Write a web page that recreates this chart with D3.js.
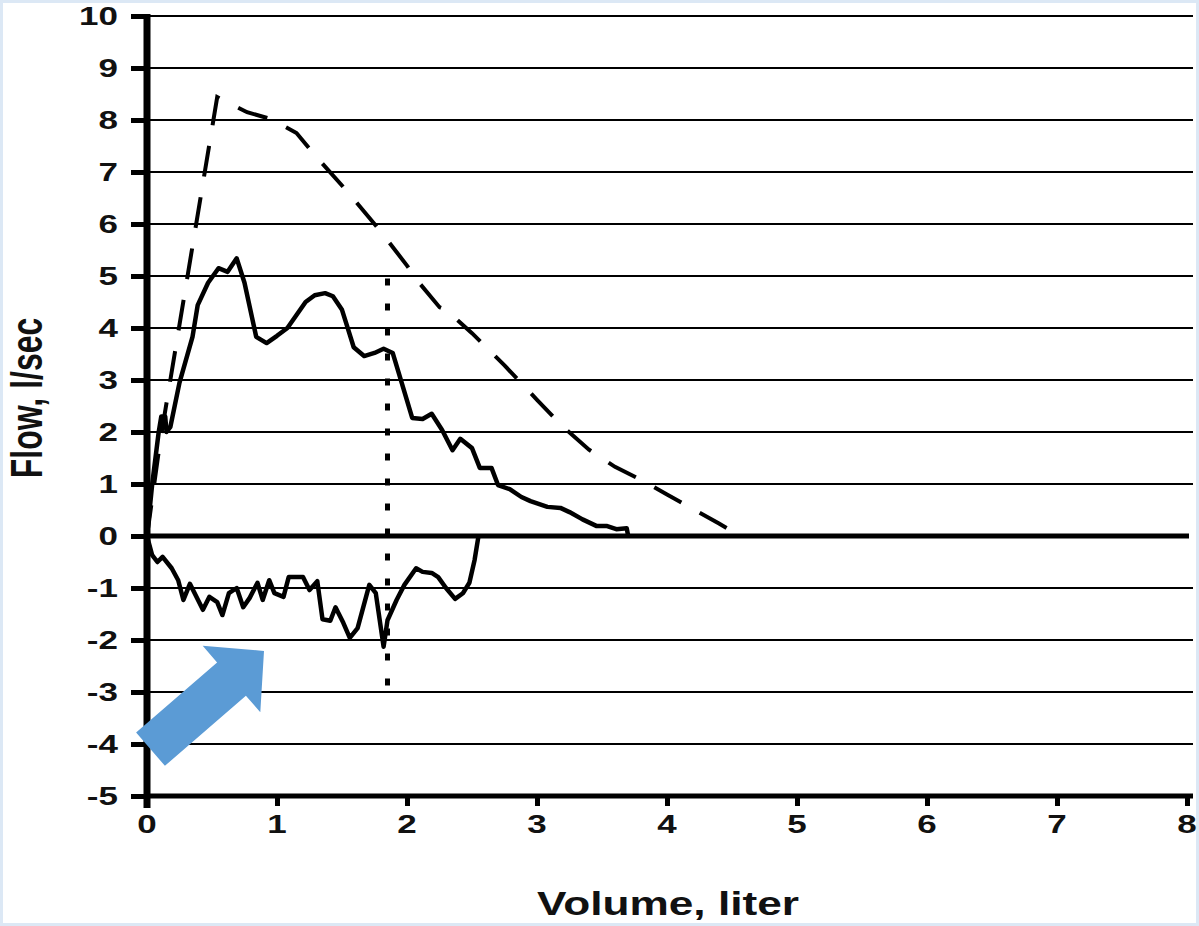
<!DOCTYPE html>
<html><head><meta charset="utf-8">
<script src="https://cdn.jsdelivr.net/npm/d3@7"></script>
<style>
html,body{margin:0;padding:0;background:#dce8f5;}
svg{display:block}
text{font-family:"Liberation Sans",Arial,sans-serif;font-weight:bold;fill:#111;}
</style></head><body>
<svg id="c" width="1199" height="926"></svg>
<script>
// ---- data ----
const xTicks = [0, 1, 2, 3, 4, 5, 6, 7, 8];
const yTicks = [-5, -4, -3, -2, -1, 0, 1, 2, 3, 4, 5, 6, 7, 8, 9, 10];
const xTitle = "Volume, liter";
const yTitle = "Flow, l/sec";

// predicted (dashed) expiratory curve
const predVolume = [0, 0.1, 0.54, 0.77, 0.95, 1.15, 1.3, 1.55, 1.8, 2.0, 2.1, 2.25, 2.3, 2.5, 2.75, 3.0, 3.2, 3.4, 3.6, 3.8, 4.0, 4.2, 4.4, 4.56];
const predFlow   = [0, 1.8, 8.44, 8.15, 8.02, 7.75, 7.3, 6.6, 5.85, 5.2, 4.85, 4.4, 4.35, 3.9, 3.28, 2.62, 2.1, 1.66, 1.33, 1.08, 0.8, 0.52, 0.24, 0];

// measured expiratory (solid, positive)
const expVolume = [0, 0.04, 0.09, 0.11, 0.14, 0.15, 0.18, 0.25, 0.35, 0.39, 0.47, 0.55, 0.62, 0.69, 0.75, 0.84, 0.92, 1.0, 1.08, 1.15, 1.22, 1.29, 1.37, 1.43, 1.5, 1.54, 1.59, 1.67, 1.75, 1.82, 1.89, 1.96, 2.04, 2.12, 2.19, 2.27, 2.35, 2.41, 2.5, 2.56, 2.65, 2.7, 2.79, 2.88, 2.95, 3.08, 3.18, 3.25, 3.35, 3.46, 3.54, 3.61, 3.69, 3.7];
const expFlow   = [0, 1.0, 2.0, 2.3, 2.3, 2.0, 2.1, 2.95, 3.83, 4.44, 4.87, 5.15, 5.08, 5.34, 4.87, 3.83, 3.71, 3.85, 4.0, 4.25, 4.5, 4.63, 4.67, 4.61, 4.35, 4.03, 3.63, 3.46, 3.52, 3.6, 3.52, 2.94, 2.27, 2.25, 2.35, 2.04, 1.65, 1.87, 1.69, 1.31, 1.31, 0.98, 0.9, 0.75, 0.67, 0.56, 0.54, 0.46, 0.32, 0.19, 0.19, 0.13, 0.15, 0.02];

// measured inspiratory (solid, negative)
const inspVolume = [0, 0.04, 0.08, 0.12, 0.19, 0.24, 0.28, 0.33, 0.38, 0.43, 0.48, 0.54, 0.58, 0.63, 0.69, 0.74, 0.79, 0.85, 0.89, 0.94, 0.98, 1.05, 1.09, 1.2, 1.25, 1.31, 1.35, 1.41, 1.45, 1.51, 1.56, 1.62, 1.71, 1.76, 1.82, 1.85, 1.92, 1.98, 2.07, 2.12, 2.19, 2.24, 2.3, 2.37, 2.43, 2.48, 2.52, 2.55];
const inspFlow   = [0, -0.37, -0.5, -0.4, -0.62, -0.85, -1.23, -0.92, -1.17, -1.42, -1.17, -1.27, -1.52, -1.1, -1.0, -1.37, -1.19, -0.9, -1.23, -0.85, -1.1, -1.17, -0.79, -0.79, -1.04, -0.87, -1.6, -1.63, -1.37, -1.67, -1.96, -1.77, -0.94, -1.1, -2.13, -1.62, -1.23, -0.94, -0.62, -0.69, -0.71, -0.79, -1.0, -1.21, -1.1, -0.9, -0.46, 0];

// vertical dotted marker
const markerVolume = [1.85, 1.85];
const markerFlow = [4.95, -3.0];

// blue arrow annotation (tail centre -> tip, in data units)
const arrowVolume = [0.027, 0.9];
const arrowFlow = [-4.1, -2.21];

// ---- drawing ----
const zip = (a, b) => a.map((v, i) => [v, b[i]]);
const svg = d3.select('#c');
svg.append('rect').attr('x', 3).attr('y', 3).attr('width', 1193).attr('height', 920).attr('fill', '#fff');

const x = d3.scaleLinear().domain([0, 8]).range([147, 1187]);
const y = d3.scaleLinear().domain([-5, 10]).range([796, 16]);

// horizontal gridlines
svg.append('g').selectAll('line').data(yTicks).join('line')
  .attr('x1', x(0)).attr('x2', d => d === 0 ? 1189 : 1193)
  .attr('y1', d => y(d)).attr('y2', d => y(d))
  .attr('stroke', '#000')
  .attr('stroke-width', d => d === 0 ? 5 : (d === -5 ? 5 : 2));

// y axis
const gy = svg.append('g').attr('transform', `translate(${x(0)},0)`)
  .call(d3.axisLeft(y).tickValues(yTicks).tickSize(16).tickSizeOuter(0).tickFormat(''));
gy.select('.domain').remove();
gy.selectAll('.tick line').attr('stroke', '#000').attr('stroke-width', 5);
svg.append('line').attr('x1', x(0)).attr('x2', x(0)).attr('y1', y(10) - 2).attr('y2', y(-5) + 12)
  .attr('stroke', '#000').attr('stroke-width', 7);

// x axis
const gx = svg.append('g').attr('transform', `translate(0,${y(-5)})`)
  .call(d3.axisBottom(x).tickValues(xTicks).tickSize(10).tickSizeOuter(0).tickFormat(''));
gx.select('.domain').remove();
gx.selectAll('.tick line').attr('stroke', '#000').attr('stroke-width', 5);

// tick labels
svg.append('g').selectAll('text').data(yTicks).join('text')
  .attr('transform', d => `translate(118,${y(d) + 9}) scale(1.4,1)`)
  .attr('text-anchor', 'end').attr('font-size', 25).text(d => d);
svg.append('g').selectAll('text').data(xTicks).join('text')
  .attr('transform', d => `translate(${x(d)},833) scale(1.4,1)`)
  .attr('text-anchor', 'middle').attr('font-size', 25).text(d => d);

// axis titles
svg.append('text').attr('transform', 'translate(668,915) scale(1.3,1)')
  .attr('text-anchor', 'middle').attr('font-size', 34).text(xTitle);
svg.append('text').attr('transform', 'translate(42,398) rotate(-90) scale(1,1.4)')
  .attr('text-anchor', 'middle').attr('font-size', 32).text(yTitle);

const line = d3.line().x(d => x(d[0])).y(d => y(d[1]));

// curves
svg.append('path').datum(zip(predVolume, predFlow)).attr('d', line)
  .attr('fill', 'none').attr('stroke', '#000').attr('stroke-width', 4)
  .attr('stroke-dasharray', '31,21');
svg.append('path').datum(zip(expVolume, expFlow)).attr('d', line)
  .attr('fill', 'none').attr('stroke', '#000').attr('stroke-width', 4.5).attr('stroke-linejoin', 'round');
svg.append('path').datum(zip(inspVolume, inspFlow)).attr('d', line)
  .attr('fill', 'none').attr('stroke', '#000').attr('stroke-width', 4.5).attr('stroke-linejoin', 'round');
svg.append('path').datum(zip(markerVolume, markerFlow)).attr('d', line)
  .attr('fill', 'none').attr('stroke', '#000').attr('stroke-width', 5).attr('stroke-dasharray', '7,18');

// arrow
(function () {
  const tx = x(arrowVolume[0]), ty = y(arrowFlow[0]);
  const hx = x(arrowVolume[1]), hy = y(arrowFlow[1]);
  const L = Math.hypot(hx - tx, hy - ty);
  const ux = (hx - tx) / L, uy = (hy - ty) / L;
  const nx = -uy, ny = ux;
  const sw = 22, hw = 44, hl = 43;
  const P = (a, b) => [tx + ux * a + nx * b, ty + uy * a + ny * b];
  const pts = [P(0, -sw), P(L - hl, -sw), P(L - hl, -hw), P(L, 0), P(L - hl, hw), P(L - hl, sw), P(0, sw)];
  svg.append('polygon').attr('points', pts.map(p => p.join(',')).join(' ')).attr('fill', '#5b9bd5');
})();
</script>
</body></html>
